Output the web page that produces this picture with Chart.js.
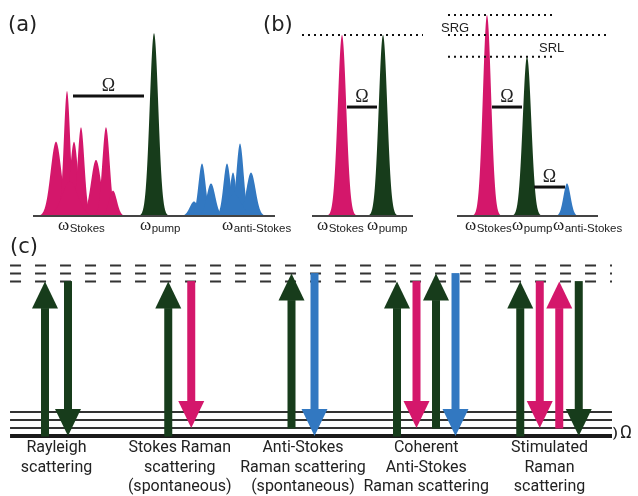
<!DOCTYPE html>
<html>
<head>
<meta charset="utf-8">
<script src="https://cdn.jsdelivr.net/npm/chart.js@4.4.1/dist/chart.umd.min.js"></script>
<style>
  html, body { margin: 0; padding: 0; background: #fff; }
  #wrap { width: 638px; height: 496px; }
</style>
</head>
<body>
<div id="wrap"><canvas id="ramanChart" width="638" height="496"></canvas></div>
<script>
// ---------- panel (a): spontaneous Raman spectrum (freq a.u., intensity rel. to pump) ----------
const aStokesFreq  = [56, 67, 74, 81, 96, 106, 113, 70];
const aStokesInt   = [0.41, 0.69, 0.41, 0.49, 0.31, 0.49, 0.14, 0.19];
const aStokesWidth = [7.5, 4.5, 5.5, 4.8, 7, 5.2, 5.5, 11];
const aPumpFreq    = [154];
const aPumpInt     = [1.01];
const aPumpWidth   = [6];
const aAntiFreq    = [194, 202, 211, 227, 233, 240, 251, 234];
const aAntiInt     = [0.08, 0.29, 0.18, 0.29, 0.24, 0.40, 0.24, 0.12];
const aAntiWidth   = [6, 5, 6, 5, 4.5, 5, 6.5, 10];

// ---------- panel (b): stimulated Raman, before / after (SRG, SRL) ----------
const bFreq  = [342, 383, 487, 527, 567];
const bInt   = [1.0, 1.0, 1.11, 0.88, 0.18];
const bWidth = [6, 6, 5.8, 6, 5];
const bBeam  = ['stokes', 'pump', 'stokes', 'pump', 'anti'];

// spectrum baselines
const baseFrom = [33, 312, 457];
const baseTo   = [275, 413, 598];
// Omega (Raman shift) bars
const omegaFrom  = [73, 347, 492, 534];
const omegaTo    = [144, 377, 522, 565];
const omegaLevel = [0.663, 0.602, 0.602, 0.16];
// dotted intensity references (b)
const refFrom = [302, 448, 448, 448];
const refTo   = [423, 552, 608, 552];
const refInt  = [1.0, 1.11, 1.0, 0.88];

// ---------- panel (c): energy levels (units of vibrational quantum) ----------
const processNames = [
    ['Rayleigh', 'scattering'],
    ['Stokes Raman', 'scattering', '(spontaneous)'],
    ['Anti-Stokes', 'Raman scattering', '(spontaneous)'],
    ['Coherent', 'Anti-Stokes', 'Raman scattering'],
    ['Stimulated', 'Raman', 'scattering']
];
const vibLevels     = [0, 1, 2, 3];
const virtualLevels = [19.3, 20.3, 21.3];
const transFrom = [[0, 19.3], [0, 19.3], [1, 20.3], [0, 19.3, 1, 20.3], [0, 19.3, 1, 19.3]];
const transTo   = [[19.3, 0], [19.3, 1], [20.3, 0], [19.3, 1, 20.3, 0], [19.3, 1, 19.3, 0]];
const transBeam = [
    ['pump', 'pump'],
    ['pump', 'stokes'],
    ['pump', 'anti'],
    ['pump', 'stokes', 'pump', 'anti'],
    ['pump', 'stokes', 'stokes', 'pump']
];
const levelFrom = -0.377;
const levelTo = 4.507;

const BEAM = { stokes: '#d4176b', pump: '#173c1b', anti: '#3278c1' };
const INK = '#222';

// ---------- datasets ----------
const datasets = [];
function seg(x0, x1, y, xa, ya, opts) {
    datasets.push(Object.assign({
        type: 'line',
        data: [{x: x0, y: y}, {x: x1, y: y}],
        xAxisID: xa, yAxisID: ya,
        borderColor: INK, borderWidth: 2,
        pointRadius: 0, fill: false, tension: 0
    }, opts || {}));
}
baseFrom.forEach((x0, i) => seg(x0, baseTo[i], 0, 'xS', 'yS', {borderColor: '#444', borderWidth: 2}));
omegaFrom.forEach((x0, i) => seg(x0, omegaTo[i], omegaLevel[i], 'xS', 'yS', {borderColor: '#111', borderWidth: 3}));
refFrom.forEach((x0, i) => seg(x0, refTo[i], refInt[i], 'xS', 'yS', {borderColor: '#111', borderWidth: 2, borderDash: [2, 4]}));
virtualLevels.forEach(v => seg(levelFrom, levelTo, v, 'xC', 'yE', {borderColor: '#333', borderWidth: 2, borderDash: [11, 14]}));
vibLevels.forEach(v => seg(levelFrom, levelTo, v, 'xC', 'yE', {borderColor: v === 0 ? '#1a1a1a' : '#333', borderWidth: v === 0 ? 4 : 2}));

// ---------- plugins ----------
const peakPlugin = {
    id: 'peaks',
    beforeDatasetsDraw(chart) {
        const ctx = chart.ctx, xs = chart.scales.xS, ys = chart.scales.yS;
        function peak(f, h, w, color) {
            ctx.beginPath();
            ctx.moveTo(xs.getPixelForValue(f - 4 * w), ys.getPixelForValue(0));
            for (let d = -4 * w; d <= 4 * w; d += 0.25) {
                ctx.lineTo(xs.getPixelForValue(f + d), ys.getPixelForValue(h * Math.exp(-(d / w) * (d / w))));
            }
            ctx.lineTo(xs.getPixelForValue(f + 4 * w), ys.getPixelForValue(0));
            ctx.closePath();
            ctx.fillStyle = color;
            ctx.fill();
        }
        ctx.save();
        aStokesFreq.forEach((f, i) => peak(f, aStokesInt[i], aStokesWidth[i], BEAM.stokes));
        aPumpFreq.forEach((f, i) => peak(f, aPumpInt[i], aPumpWidth[i], BEAM.pump));
        aAntiFreq.forEach((f, i) => peak(f, aAntiInt[i], aAntiWidth[i], BEAM.anti));
        bFreq.forEach((f, i) => peak(f, bInt[i], bWidth[i], BEAM[bBeam[i]]));
        ctx.restore();
    }
};

const arrowPlugin = {
    id: 'arrows',
    afterDatasetsDraw(chart) {
        const ctx = chart.ctx, xc = chart.scales.xC, ye = chart.scales.yE;
        const headL = 27, headW = 26, shaft = 8;
        ctx.save();
        transFrom.forEach((list, p) => {
            const n = list.length;
            const step = n === 2 ? 23 : 19.5;
            list.forEach((from, k) => {
                const x = xc.getPixelForValue(p) + (k - (n - 1) / 2) * step;
                const y0 = ye.getPixelForValue(from), y1 = ye.getPixelForValue(transTo[p][k]);
                const dir = Math.sign(y1 - y0);
                const yb = y1 - dir * headL;
                ctx.fillStyle = BEAM[transBeam[p][k]];
                ctx.fillRect(x - shaft / 2, Math.min(y0, yb) - 0.5, shaft, Math.abs(yb - y0) + 1);
                ctx.beginPath();
                ctx.moveTo(x - headW / 2, yb);
                ctx.lineTo(x + headW / 2, yb);
                ctx.lineTo(x, y1);
                ctx.closePath();
                ctx.fill();
            });
        });
        ctx.restore();
    }
};

const textPlugin = {
    id: 'texts',
    afterDraw(chart) {
        const ctx = chart.ctx, xs = chart.scales.xS, ys = chart.scales.yS, xc = chart.scales.xC;
        ctx.save();
        ctx.fillStyle = INK;
        ctx.textBaseline = 'alphabetic';
        // panel letters
        ctx.font = '21px "DejaVu Sans"';
        ctx.textAlign = 'left';
        ctx.fillText('(a)', 8, 31);
        ctx.fillText('(b)', 263, 31);
        ctx.fillText('(c)', 10, 253);
        // omega labels under the spectra
        function omega(x, sub) {
            ctx.textAlign = 'left';
            ctx.font = '17px "Liberation Serif"';
            ctx.fillText('\u03c9', x, 230);
            const w = ctx.measureText('\u03c9').width;
            ctx.font = '11.5px "Liberation Sans"';
            ctx.fillText(sub, x + w + 0.5, 232);
        }
        omega(58, 'Stokes'); omega(140, 'pump'); omega(222, 'anti-Stokes');
        omega(317, 'Stokes'); omega(367, 'pump');
        omega(465, 'Stokes'); omega(512, 'pump'); omega(553, 'anti-Stokes');
        // Omega over the shift bars
        ctx.font = '18px "Liberation Serif"';
        ctx.textAlign = 'center';
        omegaFrom.forEach((x0, i) => {
            const cx = xs.getPixelForValue((x0 + omegaTo[i]) / 2);
            ctx.fillText('\u03a9', cx, ys.getPixelForValue(omegaLevel[i]) - 5);
        });
        // SRG / SRL
        ctx.font = '13px "Liberation Sans"';
        ctx.textAlign = 'left';
        ctx.fillText('SRG', 441, 32);
        ctx.fillText('SRL', 539, 52);
        // process names
        ctx.font = '16px Roboto';
        ctx.textAlign = 'center';
        ctx.textBaseline = 'middle';
        processNames.forEach((lines, p) => {
            const cx = xc.getPixelForValue(p);
            lines.forEach((t, j) => ctx.fillText(t, cx, 448 + j * 19.5));
        });
        // Omega spacing marker
        ctx.textBaseline = 'alphabetic';
        ctx.textAlign = 'left';
        ctx.font = 'bold 13px Roboto';
        ctx.fillText(')', 613, 437);
        ctx.font = '18px Roboto';
        ctx.fillText('\u03a9', 620, 438);
        ctx.restore();
    }
};

const config = {
    type: 'line',
    data: { datasets: datasets },
    options: {
        responsive: false,
        animation: false,
        events: [],
        layout: { padding: 0 },
        plugins: { legend: { display: false }, tooltip: { enabled: false } },
        scales: {
            xS: { type: 'linear', axis: 'x', position: 'bottom', min: 0, max: 638, display: false },
            yS: { type: 'linear', axis: 'y', position: 'left', min: -1.547, max: 1.1934, display: false },
            xC: { type: 'linear', axis: 'x', position: 'bottom', min: -0.4584, max: 4.718, display: false },
            yE: { type: 'linear', axis: 'y', position: 'left', min: -7.5, max: 54.5, display: false }
        }
    },
    plugins: [peakPlugin, arrowPlugin, textPlugin]
};

const RamanChart = new Chart(document.getElementById('ramanChart'), config);
</script>
</body>
</html>
